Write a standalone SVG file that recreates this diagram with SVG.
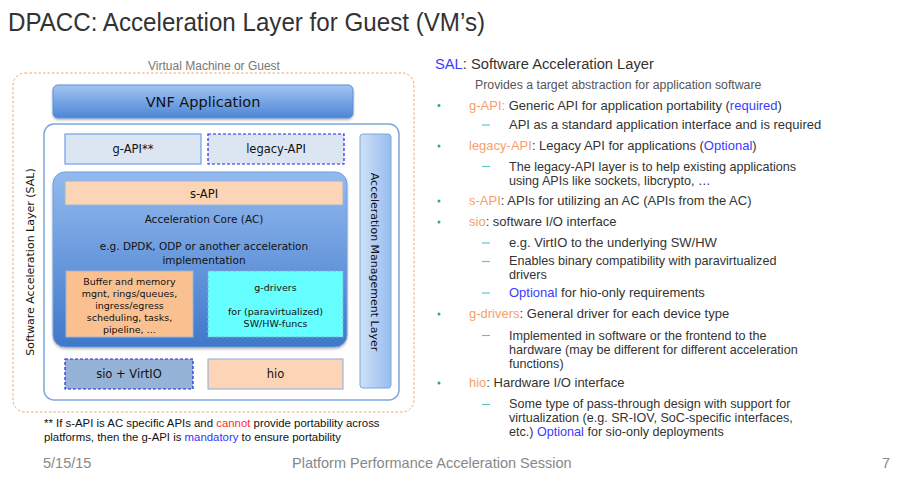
<svg xmlns="http://www.w3.org/2000/svg" width="900" height="480" viewBox="0 0 900 480">
<defs>
<linearGradient id="gBlue" x1="0" y1="0" x2="0" y2="1">
<stop offset="0" stop-color="#a2c4f3"/>
<stop offset="1" stop-color="#4c86d6"/>
</linearGradient>
<linearGradient id="gAC" x1="0" y1="0" x2="0" y2="1">
<stop offset="0" stop-color="#93baf0"/>
<stop offset="1" stop-color="#3f78c9"/>
</linearGradient>
<linearGradient id="gAML" x1="0" y1="0" x2="1" y2="0">
<stop offset="0" stop-color="#cfe0f7"/>
<stop offset="1" stop-color="#98bdf0"/>
</linearGradient>
<filter id="sh" x="-10%" y="-10%" width="120%" height="130%">
<feDropShadow dx="0" dy="1.5" stdDeviation="1.2" flood-color="#000" flood-opacity="0.3"/>
</filter>
</defs>
<style>
.d{font-family:"DejaVu Sans",sans-serif;fill:#111;text-anchor:middle}
.t{font-family:"Liberation Sans",Arial,sans-serif;fill:#333}
.r{font-size:13px}
.w{font-size:12.6px}
.o{fill:#f7a06a}
.b{fill:#3b3bff}
.bul{fill:#2aa3a8}
.dash{stroke:#5cc6cc;stroke-width:1.2}
.lbox{fill:#dce6f2;stroke:#6d9eeb;stroke-width:1.2}
.dashed{stroke:#2222ee;stroke-width:1.2;stroke-dasharray:3 2}
</style>

<text class="t" x="8" y="31" font-size="26" textLength="477" lengthAdjust="spacingAndGlyphs">DPACC: Acceleration Layer for Guest (VM’s)</text>

<g id="vm">
<rect x="13" y="73" width="401" height="339" rx="12" fill="#fff" stroke="#f4a46a" stroke-width="1" stroke-dasharray="2.5 2"/>
<text class="t" x="214" y="70" font-size="12" text-anchor="middle" style="fill:#777">Virtual Machine or Guest</text>
</g>

<g id="vnf">
<rect x="53" y="85" width="300" height="33" rx="5" fill="url(#gBlue)" stroke="#5a8fd6" stroke-width="1" filter="url(#sh)"/>
<text class="d" x="203" y="107" font-size="14.5">VNF Application</text>
</g>

<g id="sal">
<rect x="44" y="124" width="355" height="276" rx="10" fill="#fff" stroke="#7ea6dc" stroke-width="1.5"/>
<text class="d" x="0" y="0" font-size="11" transform="translate(34,262) rotate(-90)">Software Acceleration Layer (SAL)</text>
</g>

<g id="gapi">
<rect class="lbox" x="65" y="134" width="136" height="30"/>
<text class="d" x="133" y="153" font-size="11.5">g-API**</text>
</g>

<g id="legacy">
<rect x="208" y="134" width="136" height="30" fill="#dce6f2" class="dashed"/>
<text class="d" x="276" y="153" font-size="11.5">legacy-API</text>
</g>

<g id="ac">
<rect x="53" y="172" width="294" height="175" rx="12" fill="url(#gAC)" stroke="#6f9ee0" stroke-width="1" filter="url(#sh)"/>
<text class="d" x="204" y="223" font-size="10.5">Acceleration Core (AC)</text>
<text class="d" font-size="10.5"><tspan x="204" y="250">e.g. DPDK, ODP or another acceleration</tspan><tspan x="204" y="264">implementation</tspan></text>
</g>

<g id="sapi">
<rect x="65" y="181" width="278" height="24" fill="#fbd5b5" stroke="#9fb4d6" stroke-width="1"/>
<text class="d" x="204" y="198" font-size="11.5">s-API</text>
</g>

<g id="buffer">
<rect x="66" y="271" width="127" height="66" fill="#fac090" stroke="#9fb4d6" stroke-width="1"/>
<text class="d" font-size="9.5"><tspan x="129.5" y="284.5">Buffer and memory</tspan><tspan x="129.5" y="296.5">mgnt, rings/queues,</tspan><tspan x="129.5" y="309">ingress/egress</tspan><tspan x="129.5" y="321">scheduling, tasks,</tspan><tspan x="129.5" y="333">pipeline, …</tspan></text>
</g>

<g id="gdrivers">
<rect x="208" y="271" width="135" height="66" fill="#66ffff" stroke="#8fa9cf" stroke-width="1" stroke-dasharray="3 2"/>
<text class="d" font-size="9.5" x="275.5" y="290.5">g-drivers</text>
<text class="d" font-size="9.5"><tspan x="275.5" y="314.5">for (paravirtualized)</tspan><tspan x="275.5" y="326.5">SW/HW-funcs</tspan></text>
</g>

<g id="sio">
<rect x="65" y="359" width="128" height="30" fill="#95b3d7" class="dashed"/>
<text class="d" x="129" y="378" font-size="11.5">sio + VirtIO</text>
</g>

<g id="hio">
<rect x="208" y="359" width="135" height="30" fill="#fbd5b5" stroke="#8eaadb" stroke-width="1"/>
<text class="d" x="275.5" y="378" font-size="11.5">hio</text>
</g>

<g id="aml">
<rect x="360" y="134" width="31" height="254" rx="3" fill="url(#gAML)" stroke="#7ea6dc" stroke-width="1"/>
<text class="d" x="0" y="0" font-size="11" transform="translate(371,262) rotate(90)">Acceleration Management Layer</text>
</g>

<g id="connectors"/>

<g id="footnote">
<text class="t" font-size="11.4" style="fill:#111"><tspan x="44" y="427">** If s-API is AC specific APIs and <tspan style="fill:#ff2a2a">cannot</tspan> provide portability across</tspan><tspan x="44" y="441">platforms, then the g-API is <tspan style="fill:#3333ff">mandatory</tspan> to ensure portability</tspan></text>
</g>

<g id="notes">
<text class="t" x="435" y="69" font-size="14.7"><tspan class="b">SAL</tspan>: Software Acceleration Layer</text>
<text class="t" x="475" y="89" font-size="12.3" style="fill:#555">Provides a target abstraction for application software</text>

<g class="bul">
<circle cx="439" cy="105.5" r="1.5"/>
<circle cx="439" cy="146" r="1.5"/>
<circle cx="439" cy="201" r="1.5"/>
<circle cx="439" cy="222" r="1.5"/>
<circle cx="439" cy="314" r="1.5"/>
<circle cx="439" cy="383" r="1.5"/>
</g>
<g>
<line class="dash" x1="482" y1="125" x2="490" y2="125"/>
<line class="dash" x1="482" y1="166.5" x2="490" y2="166.5"/>
<line class="dash" x1="482" y1="243" x2="490" y2="243"/>
<line class="dash" x1="482" y1="261.5" x2="490" y2="261.5"/>
<line class="dash" x1="482" y1="293" x2="490" y2="293"/>
<line class="dash" x1="482" y1="335.5" x2="490" y2="335.5"/>
<line class="dash" x1="482" y1="404.5" x2="490" y2="404.5"/>
</g>

<text class="t r" x="469" y="110"><tspan class="o">g-API:</tspan> Generic API for application portability (<tspan class="b">required</tspan>)</text>
<text class="t r" x="509" y="129">API as a standard application interface and is required</text>
<text class="t r" x="469" y="150"><tspan class="o">legacy-API</tspan>: Legacy API for applications (<tspan class="b">Optional</tspan>)</text>
<text class="t w"><tspan x="509" y="170.5">The legacy-API layer is to help existing applications</tspan><tspan x="509" y="184.7">using APIs like sockets, libcrypto, …</tspan></text>
<text class="t r" x="469" y="205"><tspan class="o">s-API</tspan>: APIs for utilizing an AC (APIs from the AC)</text>
<text class="t r" x="469" y="226"><tspan class="o">sio</tspan>: software I/O interface</text>
<text class="t r" x="509" y="247">e.g. VirtIO to the underlying SW/HW</text>
<text class="t w"><tspan x="509" y="265">Enables binary compatibility with paravirtualized</tspan><tspan x="509" y="279.2">drivers</tspan></text>
<text class="t r" x="509" y="297"><tspan class="b">Optional</tspan> for hio-only requirements</text>
<text class="t r" x="469" y="318"><tspan class="o">g-drivers</tspan>: General driver for each device type</text>
<text class="t w"><tspan x="509" y="339.5">Implemented in software or the frontend to the</tspan><tspan x="509" y="353.7">hardware (may be different for different acceleration</tspan><tspan x="509" y="367.9">functions)</tspan></text>
<text class="t r" x="469" y="387"><tspan class="o">hio</tspan>: Hardware I/O interface</text>
<text class="t w"><tspan x="509" y="408">Some type of pass-through design with support for</tspan><tspan x="509" y="422.2">virtualization (e.g. SR-IOV, SoC-specific interfaces,</tspan><tspan x="509" y="436.4">etc.) <tspan class="b">Optional</tspan> for sio-only deployments</tspan></text>
</g>

<g id="footer">
<text class="t" x="43" y="468" font-size="14.5" style="fill:#888">5/15/15</text>
<text class="t" x="292" y="468" font-size="14.5" style="fill:#888">Platform Performance Acceleration Session</text>
<text class="t" x="882" y="468" font-size="14.5" style="fill:#888">7</text>
</g>
</svg>
